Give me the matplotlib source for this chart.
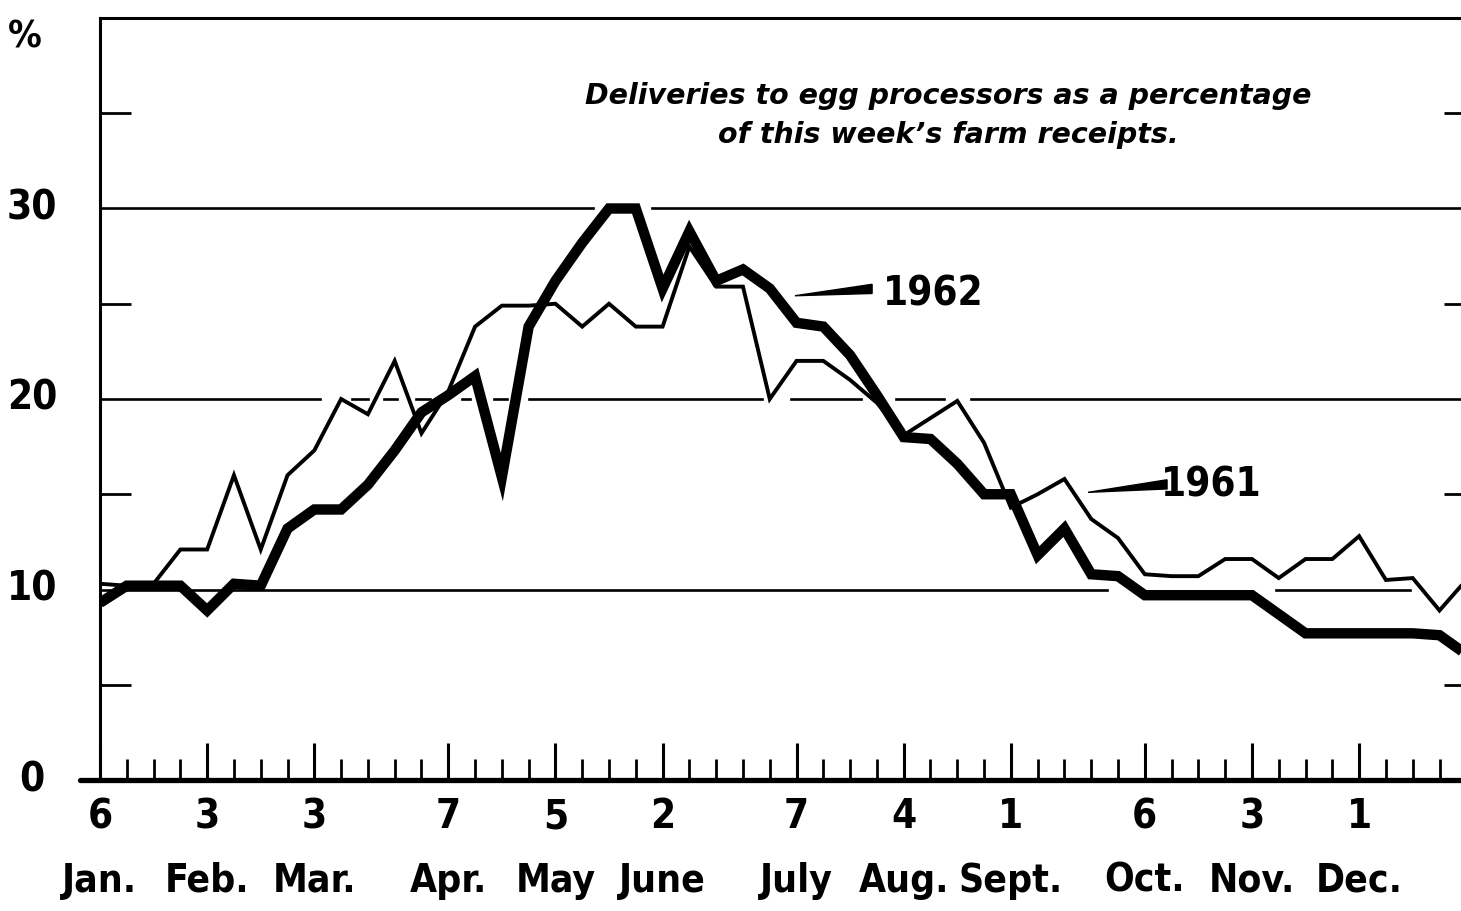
import matplotlib
matplotlib.use('Agg')
import matplotlib.pyplot as plt
import numpy as np
from matplotlib.patches import Polygon

# weekly data, week 0 = Jan. 6
weeks = np.arange(52)
pct_1961 = [10.3, 10.2, 10.3, 12.1, 12.1, 16.0, 12.1, 16.0, 17.3, 20.0,
            19.2, 22.0, 18.2, 20.4, 23.8, 24.9, 24.9, 25.0, 23.8, 25.0,
            23.8, 23.8, 28.0, 25.9, 25.9, 20.0, 22.0, 22.0, 21.0, 19.8,
            18.1, 19.0, 19.9, 17.7, 14.3, 15.0, 15.8, 13.7, 12.7, 10.8,
            10.7, 10.7, 11.6, 11.6, 10.6, 11.6, 11.6, 12.8, 10.5, 10.6,
            8.9, 10.5]
pct_1962 = [9.3, 10.2, 10.2, 10.2, 8.9, 10.3, 10.2, 13.2, 14.2, 14.2,
            15.5, 17.3, 19.3, 20.2, 21.2, 15.9, 23.8, 26.2, 28.2, 30.0,
            30.0, 25.8, 28.8, 26.2, 26.8, 25.8, 24.0, 23.8, 22.3, 20.2,
            18.0, 17.9, 16.6, 15.0, 15.0, 11.8, 13.2, 10.8, 10.7, 9.7,
            9.7, 9.7, 9.7, 9.7, 8.7, 7.7, 7.7, 7.7, 7.7, 7.7,
            7.6, 6.6]

month_weeks = [0, 4, 8, 13, 17, 21, 26, 30, 34, 39, 43, 47]
month_days = ['6', '3', '3', '7', '5', '2', '7', '4', '1', '6', '3', '1']
month_names = ['Jan.', 'Feb.', 'Mar.', 'Apr.', 'May', 'June', 'July', 'Aug.',
               'Sept.', 'Oct.', 'Nov.', 'Dec.']
y_labels = [0, 10, 20, 30]

cond = dict(family='DejaVu Sans', stretch='condensed', weight='bold')

fig = plt.figure(figsize=(14.61, 9.11), dpi=100)
ax = fig.add_axes([100/1461, 131/911, 1375/1461, 762/911])
xmax = 1375/26.79
ax.set_xlim(0, xmax)
ax.set_ylim(0, 40)

for s in ['left', 'top']:
    ax.spines[s].set_linewidth(2.2)
ax.spines['bottom'].set_visible(False)
ax.spines['right'].set_linewidth(2.2)
ax.plot([-0.75, xmax], [0, 0], color='black', lw=3.8, clip_on=False,
        solid_capstyle='round', zorder=5)

# broken horizontal guide lines
guides = {10: [(0, 37.6), (43.9, 48.9)],
          20: [(0, 8.2), (9.4, 10.0), (10.6, 11.1), (11.8, 12.3), (13.5, 13.8),
               (14.7, 15.2), (16.0, 24.7), (25.8, 28.4), (29.7, 31.5), (32.5, xmax)],
          30: [(0, 18.4), (20.6, xmax)]}
for yv, segs in guides.items():
    for a, b in segs:
        ax.plot([a, b], [yv, yv], color='black', lw=1.9, zorder=1)

ax.plot(weeks, pct_1962, color='black', lw=7.5, solid_joinstyle='miter',
        solid_capstyle='butt', zorder=3)
ax.plot(weeks, pct_1961, color='black', lw=2.8, solid_joinstyle='miter',
        solid_capstyle='butt', zorder=4)

# ticks
ax.set_xticks(month_weeks)
ax.set_xticks([w for w in range(1, 51) if w not in month_weeks], minor=True)
ax.tick_params(axis='x', which='major', direction='in', length=27, width=2.2,
               labelbottom=False, top=False)
ax.tick_params(axis='x', which='minor', direction='in', length=15, width=2,
               top=False)
ax.set_yticks([5, 15, 25, 35])
ax.tick_params(axis='y', direction='in', length=22, width=2, left=True,
               right=True, labelleft=False)

# axis labels
xt = ax.get_xaxis_transform()
for w, d, m in zip(month_weeks, month_days, month_names):
    ax.text(w, -0.049, d, transform=xt, ha='center', va='center',
            fontsize=29, **cond)
    ax.text(w, -0.132, m, transform=xt, ha='center', va='center',
            fontsize=28, **cond)
yt = ax.get_yaxis_transform()
for v in y_labels:
    ax.text(-0.0495, v, str(v), transform=yt, ha='center', va='center',
            fontsize=29, **cond)
ax.text(-0.055, 39.0, '%', transform=yt, ha='center', va='center',
        fontsize=27, **cond)

# title
ax.text(31.65, 34.9, "Deliveries to egg processors as a percentage\nof this week\u2019s farm receipts.",
        ha='center', va='center', fontsize=20.5, fontweight='bold',
        style='italic', linespacing=1.5, family=['DejaVu Sans'])

# year labels with tapered pointers
def pointer(x0, y0, x1, y1, hw):
    ax.add_patch(Polygon([(x0, y0), (x1, y1 + hw), (x1, y1 - hw)],
                         closed=True, color='black', zorder=6))

pointer(25.94, 25.42, 28.82, 25.78, 0.24)
ax.text(31.1, 25.5, '1962', ha='center', va='center', fontsize=29, **cond)
pointer(36.88, 15.1, 39.83, 15.52, 0.24)
ax.text(41.5, 15.47, '1961', ha='center', va='center', fontsize=29, **cond)

fig.savefig('out.png', dpi=100, facecolor='white')
